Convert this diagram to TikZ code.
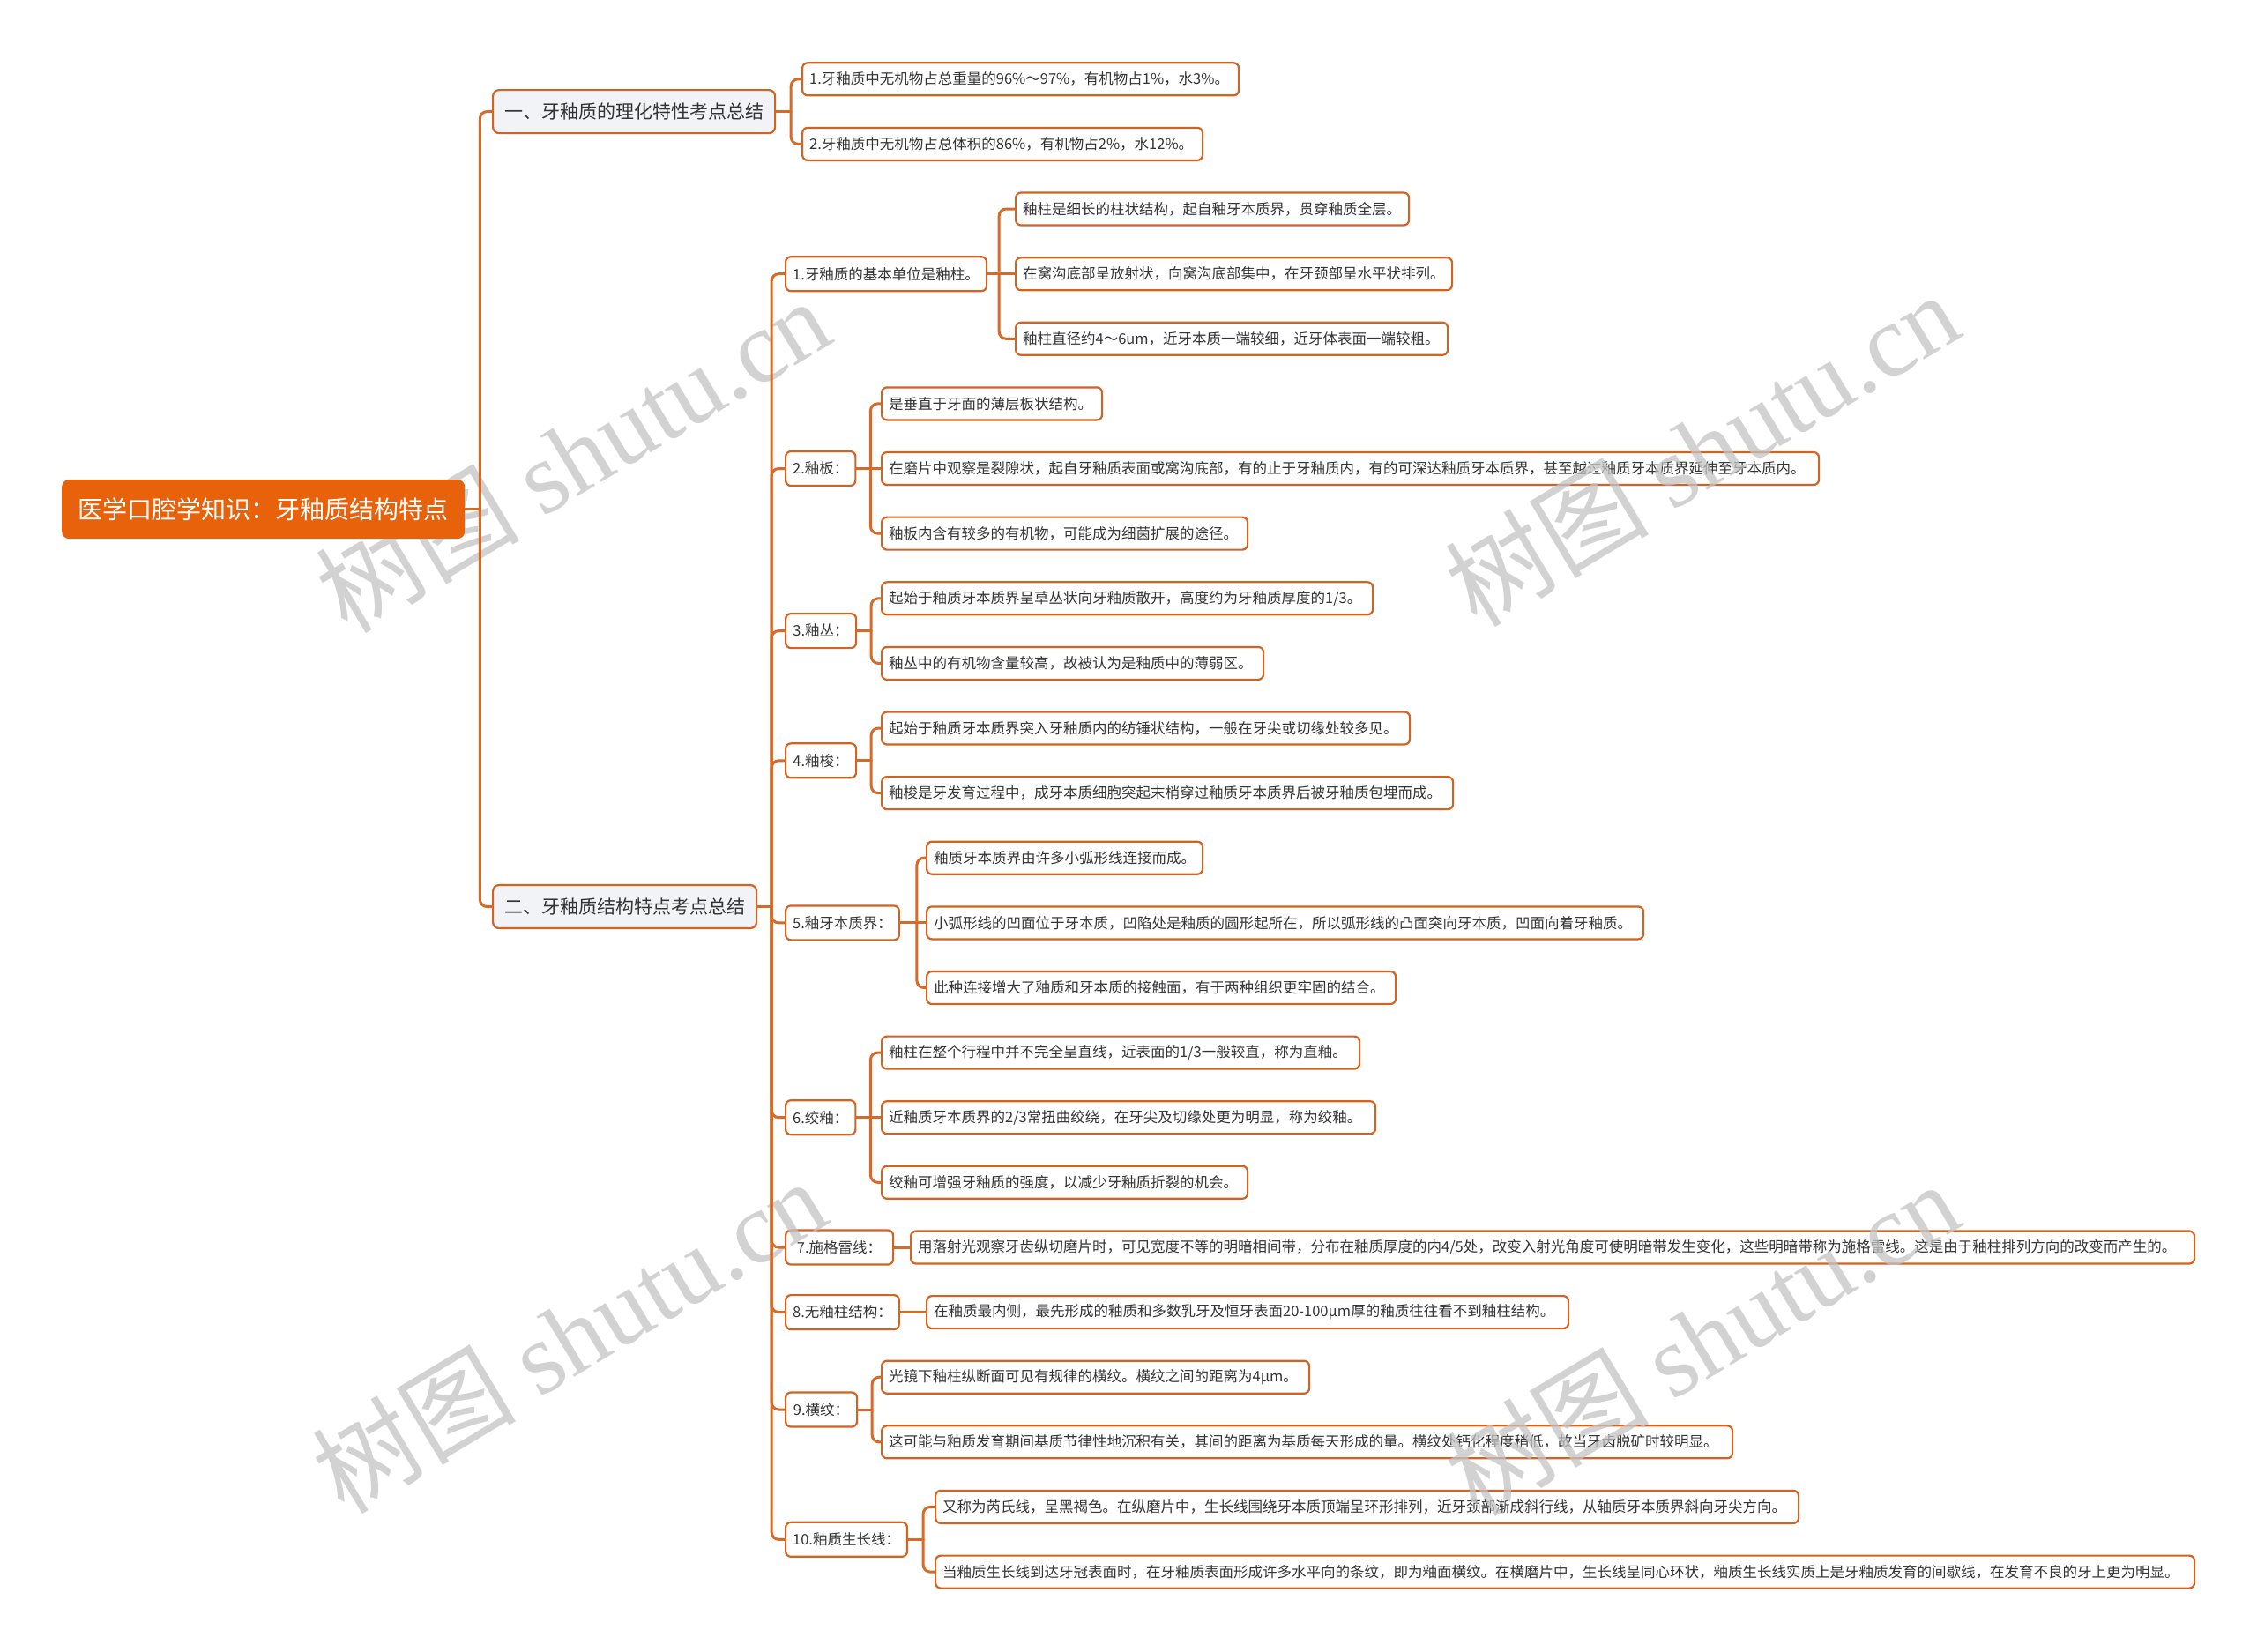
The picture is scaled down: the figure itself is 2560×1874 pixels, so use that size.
\documentclass[tikz,border=0pt]{standalone}
\usepackage{fontspec}
\setmainfont{Noto Sans CJK SC}
\newfontfamily\wmlatin{Liberation Serif}
\definecolor{lc}{RGB}{216,106,40}
\definecolor{bc}{RGB}{210,100,35}
\definecolor{rc}{RGB}{232,98,12}
\definecolor{bf}{RGB}{241,243,246}
\definecolor{tc}{RGB}{51,51,51}
\definecolor{wm}{RGB}{195,195,195}
\newcommand\LB[2]{\makebox[\dimexpr#1pt-16pt\relax][l]{#2}}
\newcommand\fork[3]{\draw[conn] (#1.east) -- ++(#2,0) coordinate (#1-bus);
  \foreach \c in {#3} {\draw[conn] (#1-bus) |- (\c.west);}}
\begin{document}
\begin{tikzpicture}[x=1pt,y=-1pt,
  conn/.style={draw=lc,line width=3pt,rounded corners=8pt,line cap=round},
  leaf/.style={draw=bc,line width=2.2pt,fill=white,rounded corners=6pt,anchor=west,minimum height=37pt,inner xsep=8pt,inner ysep=0pt,font=\fontsize{16.5}{19}\selectfont,text=tc},
  sub/.style={leaf,minimum height=39pt},
  branch/.style={draw=bc,line width=2.2pt,fill=bf,rounded corners=7pt,anchor=west,minimum height=49pt,inner xsep=8pt,font=\fontsize{21}{25}\selectfont,text=tc},
  rootn/.style={fill=rc,rounded corners=8pt,anchor=west,minimum height=67pt,minimum width=457pt,font=\fontsize{28}{32}\selectfont,text=white},
  wmk/.style={text=wm,font=\fontsize{116}{120}\selectfont,opacity=0.75}
]
\useasboundingbox (0,0) rectangle (2560,1874);
\fill[white] (0,0) rectangle (2560,1874);

% nodes
\node[branch,minimum width=320pt] (b1) at (558,126.6) {一、牙釉质的理化特性考点总结};
\node[branch,minimum width=299pt] (b2) at (558,1028.5) {二、牙釉质结构特点考点总结};

\node[leaf] (l1a) at (909,89.8) {\LB{495}{1.牙釉质中无机物占总重量的96\%～97\%，有机物占1\%，水3\%。}};
\node[leaf] (l1b) at (909,163.4) {\LB{454}{2.牙釉质中无机物占总体积的86\%，有机物占2\%，水12\%。}};

\node[sub,minimum width=228pt] (s1) at (890,310.7) {1.牙釉质的基本单位是釉柱。};
\node[leaf] (s1a) at (1151,237.0) {\LB{446}{釉柱是细长的柱状结构，起自釉牙本质界，贯穿釉质全层。}};
\node[leaf] (s1b) at (1151,310.7) {\LB{495}{在窝沟底部呈放射状，向窝沟底部集中，在牙颈部呈水平状排列。}};
\node[leaf] (s1c) at (1151,384.3) {\LB{490}{釉柱直径约4～6um，近牙本质一端较细，近牙体表面一端较粗。}};

\node[sub,minimum width=77pt] (s2) at (890,531.5) {2.釉板：};
\node[leaf] (s2a) at (999,457.9) {\LB{250}{是垂直于牙面的薄层板状结构。}};
\node[leaf] (s2b) at (999,531.5) {\LB{1063}{在磨片中观察是裂隙状，起自牙釉质表面或窝沟底部，有的止于牙釉质内，有的可深达釉质牙本质界，甚至越过釉质牙本质界延伸至牙本质内。}};
\node[leaf] (s2c) at (999,605.1) {\LB{415}{釉板内含有较多的有机物，可能成为细菌扩展的途径。}};

\node[sub,minimum width=80pt] (s3) at (890,715.6) {3.釉丛：};
\node[leaf] (s3a) at (999,678.8) {\LB{557}{起始于釉质牙本质界呈草丛状向牙釉质散开，高度约为牙釉质厚度的1/3。}};
\node[leaf] (s3b) at (999,752.4) {\LB{433}{釉丛中的有机物含量较高，故被认为是釉质中的薄弱区。}};

\node[sub,minimum width=80pt] (s4) at (890,862.8) {4.釉梭：};
\node[leaf] (s4a) at (999,826.0) {\LB{599}{起始于釉质牙本质界突入牙釉质内的纺锤状结构，一般在牙尖或切缘处较多见。}};
\node[leaf] (s4b) at (999,899.6) {\LB{648}{釉梭是牙发育过程中，成牙本质细胞突起末梢穿过釉质牙本质界后被牙釉质包埋而成。}};

\node[sub,minimum width=122pt] (s5) at (890,1046.9) {5.釉牙本质界：};
\node[leaf] (s5a) at (1050,973.2) {\LB{313}{釉质牙本质界由许多小弧形线连接而成。}};
\node[leaf] (s5b) at (1050,1046.9) {\LB{813}{小弧形线的凹面位于牙本质，凹陷处是釉质的圆形起所在，所以弧形线的凸面突向牙本质，凹面向着牙釉质。}};
\node[leaf] (s5c) at (1050,1120.5) {\LB{532}{此种连接增大了釉质和牙本质的接触面，有于两种组织更牢固的结合。}};

\node[sub,minimum width=77pt] (s6) at (890,1267.7) {6.绞釉：};
\node[leaf] (s6a) at (999,1194.1) {\LB{542}{釉柱在整个行程中并不完全呈直线，近表面的1/3一般较直，称为直釉。}};
\node[leaf] (s6b) at (999,1267.7) {\LB{560}{近釉质牙本质界的2/3常扭曲绞绕，在牙尖及切缘处更为明显，称为绞釉。}};
\node[leaf] (s6c) at (999,1341.3) {\LB{415}{绞釉可增强牙釉质的强度，以减少牙釉质折裂的机会。}};

\node[sub,minimum width=122pt] (s7) at (890,1415.0) {7.施格雷线：};
\node[leaf] (s7a) at (1032,1415.0) {\LB{1456}{用落射光观察牙齿纵切磨片时，可见宽度不等的明暗相间带，分布在釉质厚度的内4/5处，改变入射光角度可使明暗带发生变化，这些明暗带称为施格雷线。这是由于釉柱排列方向的改变而产生的。}};

\node[sub,minimum width=126pt] (s8) at (890,1488.6) {8.无釉柱结构：};
\node[leaf] (s8a) at (1050,1488.6) {\LB{728}{在釉质最内侧，最先形成的釉质和多数乳牙及恒牙表面20-100μm厚的釉质往往看不到釉柱结构。}};

\node[sub,minimum width=81pt] (s9) at (890,1599.0) {9.横纹：};
\node[leaf] (s9a) at (999,1562.2) {\LB{485}{光镜下釉柱纵断面可见有规律的横纹。横纹之间的距离为4μm。}};
\node[leaf] (s9b) at (999,1635.8) {\LB{965}{这可能与釉质发育期间基质节律性地沉积有关，其间的距离为基质每天形成的量。横纹处钙化程度稍低，故当牙齿脱矿时较明显。}};

\node[sub,minimum width=135pt] (s10) at (890,1746.3) {10.釉质生长线：};
\node[leaf] (s10a) at (1060,1709.4) {\LB{979}{又称为芮氏线，呈黑褐色。在纵磨片中，生长线围绕牙本质顶端呈环形排列，近牙颈部渐成斜行线，从轴质牙本质界斜向牙尖方向。}};
\node[leaf] (s10b) at (1060,1783.1) {\LB{1428}{当釉质生长线到达牙冠表面时，在牙釉质表面形成许多水平向的条纹，即为釉面横纹。在横磨片中，生长线呈同心环状，釉质生长线实质上是牙釉质发育的间歇线，在发育不良的牙上更为明显。}};

% watermarks
\node[wmk,rotate=31] (wm1) at (649,516) {树图 {\wmlatin shutu.cn}};
\node[wmk,rotate=31] (wm2) at (1930,509) {树图 {\wmlatin shutu.cn}};
\node[wmk,rotate=31] (wm3) at (645,1515) {树图 {\wmlatin shutu.cn}};
\node[wmk,rotate=31] (wm4) at (1930,1518) {树图 {\wmlatin shutu.cn}};

% root on top
\node[rootn] (root) at (70,577.6) {医学口腔学知识：牙釉质结构特点};

% connectors
\fork{root}{17}{b1,b2}
\fork{b1}{17}{l1a,l1b}
\fork{b2}{16}{s1,s2,s3,s4,s5,s6,s7,s8,s9,s10}
\fork{s1}{13}{s1a,s1c}
\draw[conn] (s1-bus) -- (s1b.west);
\fork{s2}{16}{s2a,s2c}
\draw[conn] (s2-bus) -- (s2b.west);
\fork{s3}{16}{s3a,s3b}
\fork{s4}{16}{s4a,s4b}
\fork{s5}{19}{s5a,s5c}
\draw[conn] (s5-bus) -- (s5b.west);
\fork{s6}{16}{s6a,s6c}
\draw[conn] (s6-bus) -- (s6b.west);
\draw[conn] (s7.east) -- (s7a.west);
\draw[conn] (s8.east) -- (s8a.west);
\fork{s9}{16}{s9a,s9b}
\fork{s10}{17}{s10a,s10b}
\end{tikzpicture}
\end{document}
